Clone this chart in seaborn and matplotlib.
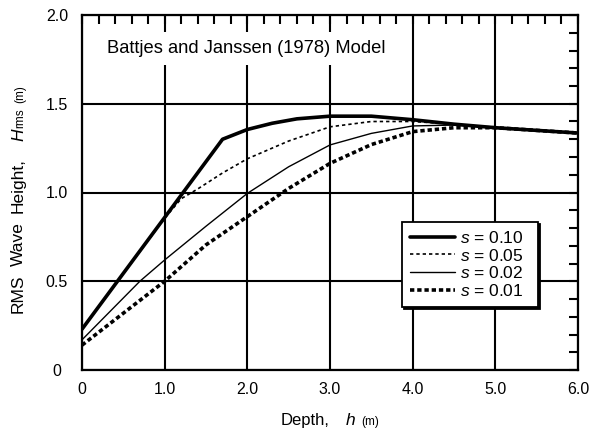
import matplotlib
matplotlib.use("Agg")
import matplotlib.pyplot as plt
import matplotlib.transforms as mtransforms
import seaborn as sns
import pandas as pd

# ---- data ----
h_010 = [0.0, 1.7, 2.0, 2.3, 2.6, 3.0, 3.5, 4.0, 4.5, 5.0, 5.5, 6.0]
H_010 = [0.23, 1.30, 1.355, 1.39, 1.415, 1.43, 1.43, 1.41, 1.385, 1.365, 1.35, 1.335]

h_005 = [0.0, 1.0, 1.2, 1.4, 1.7, 2.0, 2.5, 3.0, 3.5, 4.0, 4.5, 5.0, 5.5, 6.0]
H_005 = [0.23, 0.855, 0.965, 1.02, 1.11, 1.19, 1.29, 1.37, 1.40, 1.40, 1.385, 1.365, 1.35, 1.335]

h_002 = [0.0, 0.7, 1.0, 1.5, 2.0, 2.5, 3.0, 3.5, 4.0, 4.5, 5.0, 5.5, 6.0]
H_002 = [0.17, 0.50, 0.62, 0.81, 0.995, 1.145, 1.268, 1.333, 1.375, 1.38, 1.365, 1.35, 1.335]

h_001 = [0.0, 1.0, 1.5, 2.0, 2.5, 3.0, 3.5, 4.0, 4.5, 5.0, 5.5, 6.0]
H_001 = [0.14, 0.50, 0.705, 0.864, 1.023, 1.164, 1.27, 1.343, 1.365, 1.365, 1.35, 1.335]

series_labels = ["0.10", "0.05", "0.02", "0.01"]
x_ticks = [0, 1, 2, 3, 4, 5, 6]
x_tick_labels = ["0", "1.0", "2.0", "3.0", "4.0", "5.0", "6.0"]
y_ticks = [0, 0.5, 1.0, 1.5, 2.0]
y_tick_labels = ["0", "0.5", "1.0", "1.5", "2.0"]
title_text = "Battjes and Janssen (1978) Model"

sns.set_theme(style="white")
FONT = "Liberation Sans"
plt.rcParams["font.family"] = [FONT, "DejaVu Sans"]
plt.rcParams["mathtext.fontset"] = "custom"
plt.rcParams["mathtext.rm"] = FONT
plt.rcParams["mathtext.it"] = FONT + ":italic"
plt.rcParams["text.color"] = "black"
plt.rcParams["xtick.color"] = "black"
plt.rcParams["ytick.color"] = "black"
plt.rcParams["xtick.labelcolor"] = "black"
plt.rcParams["ytick.labelcolor"] = "black"

W, Hh = 589, 432
fig = plt.figure(figsize=(W / 100, Hh / 100), dpi=100)
fig.patch.set_facecolor("white")
ax = fig.add_axes([82 / W, 1 - 370 / Hh, 496 / W, 355 / Hh])
ax.set_facecolor("white")

styles = [
    dict(lw=2.6, linestyle="-"),
    dict(lw=1.2, linestyle=(0, (2.0, 1.8))),
    dict(lw=1.0, linestyle="-"),
    dict(lw=2.6, linestyle=(0, (1.2, 0.8))),
]
xs = [h_010, h_005, h_002, h_001]
ys = [H_010, H_005, H_002, H_001]
for x, y, lab, st in zip(xs, ys, series_labels, styles):
    df = pd.DataFrame({"h": x, "H": y})
    sns.lineplot(data=df, x="h", y="H", ax=ax, color="black",
                 label=r"$s$ = " + lab, zorder=3, **st)

ax.set_xlim(0, 6)
ax.set_ylim(0, 2)
ax.set_xticks(x_ticks)
ax.set_xticklabels(x_tick_labels)
ax.set_yticks(y_ticks)
ax.set_yticklabels(y_tick_labels, ha="center")
ax.set_xticks([i * 0.2 for i in range(31)], minor=True)
ax.set_yticks([i * 0.1 for i in range(21)], minor=True)
ax.grid(True, which="major", color="black", lw=1.5, zorder=1)
ax.set_axisbelow(True)
ax.tick_params(which="both", direction="in", top=True, right=True,
               color="black", width=1.5)
ax.tick_params(which="major", length=6.5, labelsize=11.5, labelcolor="black")
ax.tick_params(which="minor", length=6.5)
ax.tick_params(axis="x", which="major", pad=9)
ax.tick_params(axis="y", which="major", pad=18)
for sp in ax.spines.values():
    sp.set_color("black")
    sp.set_linewidth(1.6)
ax.set_xlabel("")
ax.set_ylabel("")

# title box
ax.text(0.05, 0.905, title_text, transform=ax.transAxes, fontsize=13.2,
        ha="left", va="center", zorder=4, color="black",
        bbox=dict(facecolor="white", edgecolor="none", pad=6))

# legend
leg = ax.legend(loc="upper left",
                bbox_to_anchor=(0.645, 0.1746, 0.274, 0.2423),
                mode="expand",
                borderaxespad=0, fontsize=12.5, frameon=True, fancybox=False,
                edgecolor="black", handlelength=2.6, handletextpad=0.3,
                labelspacing=0.1, borderpad=0.45,
                shadow={"color": "black", "alpha": 1.0, "ox": 1.6, "oy": -1.6})
leg.get_frame().set_linewidth(1.3)
leg.set_zorder(5)
for t in leg.get_texts():
    t.set_color("black")

# composite axis labels
renderer = fig.canvas.get_renderer()
ident = mtransforms.IdentityTransform()


def pieces_len(pieces):
    total = 0
    for s, kw in pieces:
        t = fig.text(0, 0, s, transform=ident, **kw)
        total += t.get_window_extent(renderer).width
        t.remove()
    return total


def draw_pieces(pieces, start, fixed, rotation=0):
    pos = start
    for s, kw in pieces:
        if rotation:
            t = fig.text(fixed, pos, s, transform=ident, rotation=90,
                         rotation_mode="anchor", ha="left", va="baseline",
                         color="black", **kw)
            pos += t.get_window_extent(renderer).height
        else:
            t = fig.text(pos, fixed, s, transform=ident, ha="left",
                         va="baseline", color="black", **kw)
            pos += t.get_window_extent(renderer).width


big = dict(fontsize=12)
ital = dict(fontsize=12.5, style="italic")
small = dict(fontsize=8.5)
gap = dict(fontsize=12)

xl = [("Depth,", big), ("\u2003", gap), ("h", ital), ("\u2002", small), ("(m)", small)]
L = pieces_len(xl)
draw_pieces(xl, 330 - L / 2, Hh - 425, 0)

ybig = dict(fontsize=12.5)
yl = [("RMS", ybig), ("\u2002", ybig), ("Wave", ybig), ("\u2002", ybig),
      ("Height,", ybig), ("\u2003", ybig), ("H", ital), ("rms", small),
      ("\u2002", small), ("(m)", small)]
draw_pieces(yl, (Hh - 313), 23, 1)

fig.savefig("out.png", dpi=100, facecolor="white")
